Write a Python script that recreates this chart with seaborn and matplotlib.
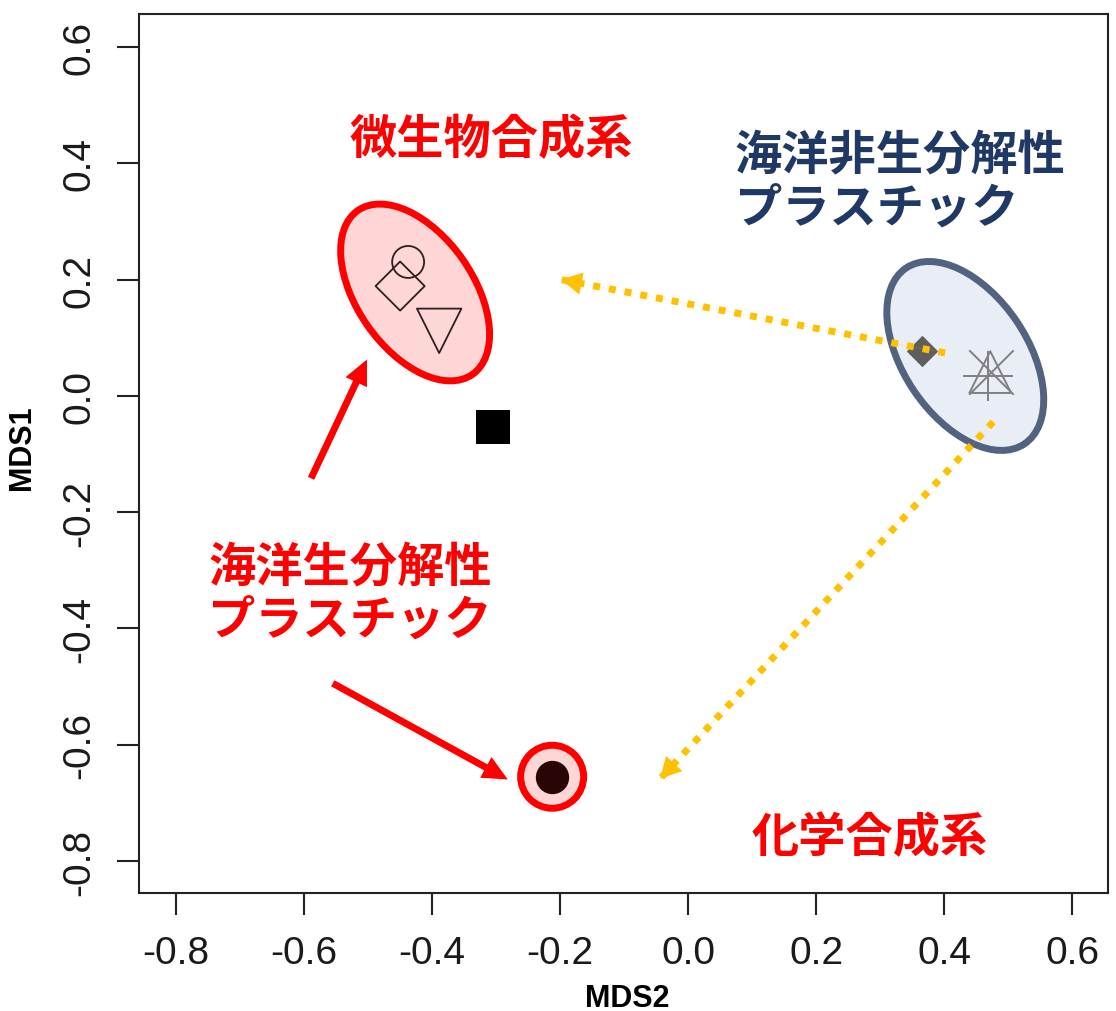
import numpy as np
import pandas as pd
import matplotlib
matplotlib.use("Agg")
import matplotlib.pyplot as plt
import seaborn as sns
from matplotlib import font_manager
from matplotlib.patches import Ellipse, FancyArrowPatch
from matplotlib.transforms import ScaledTranslation

# ---- NMDS sample scores ----
sample_id = ["m1", "m2", "m3", "ref", "c1", "n1", "n2", "n3", "n4"]
sample_group = ["microbial", "microbial", "microbial", "reference", "chemical",
                "nonbio", "nonbio", "nonbio", "nonbio"]
mds2 = [-0.4375, -0.450, -0.389, -0.305, -0.2125, 0.366, 0.472, 0.469, 0.473]
mds1 = [0.2305, 0.189, 0.112, -0.053, -0.655, 0.077, 0.041, 0.034, 0.041]

x_ticks = [-0.8, -0.6, -0.4, -0.2, 0.0, 0.2, 0.4, 0.6]
x_tick_labels = ["-0.8", "-0.6", "-0.4", "-0.2", "0.0", "0.2", "0.4", "0.6"]
y_ticks = [-0.8, -0.6, -0.4, -0.2, 0.0, 0.2, 0.4, 0.6]
y_tick_labels = ["-0.8", "-0.6", "-0.4", "-0.2", "0.0", "0.2", "0.4", "0.6"]

df = pd.DataFrame({"id": sample_id, "group": sample_group, "MDS2": mds2, "MDS1": mds1})

sns.set_theme(style="white")
names = {f.name for f in font_manager.fontManager.ttflist}
num_font = "Liberation Sans Narrow" if "Liberation Sans Narrow" in names else "Liberation Sans"
cjk = ["Noto Sans CJK JP", "DejaVu Sans"]
plt.rcParams["font.family"] = [num_font, "DejaVu Sans"]

fig = plt.figure(figsize=(11.16, 10.12), dpi=100)
ax = fig.add_axes([139 / 1116, 118 / 1012, 969 / 1116, 879 / 1012])
ax.set_xlim(-0.858, 0.656)
ax.set_ylim(-0.855, 0.657)

# ---- group ellipses ----
def group_ellipse(cx, cy, a_px, b_px, angle, face, edge, lw=5):
    tr = fig.dpi_scale_trans + ScaledTranslation(cx, cy, ax.transData)
    e = Ellipse((0, 0), 2 * a_px / fig.dpi, 2 * b_px / fig.dpi, angle=angle,
                transform=tr, facecolor=face, edgecolor=edge, lw=lw, zorder=1)
    ax.add_patch(e)

group_ellipse(-0.4266, 0.178, 100, 58, -55, "#FFD6D6", "#FF0000")
group_ellipse(0.433, 0.0688, 106, 62, -56, "#E9EDF6", "#52627F")
group_ellipse(df.MDS2[4], df.MDS1[4], 31.5, 31.5, 0, "#FFD6D6", "#FF0000")

# ---- sample points ----
styles = {
    "m1": dict(marker="o", s=23 ** 2, facecolor="none", edgecolor="#2B1F1F", linewidth=1.3),
    "m2": dict(marker="D", s=25 ** 2, facecolor="none", edgecolor="#2B1F1F", linewidth=1.3),
    "m3": dict(marker="v", s=32 ** 2, facecolor="none", edgecolor="#2B1F1F", linewidth=1.3),
    "ref": dict(marker="s", s=24 ** 2, color="black", edgecolor="black", linewidth=0),
    "c1": dict(marker="o", s=24 ** 2, color="#2A0505", edgecolor="#2A0505", linewidth=0),
    "n1": dict(marker="D", s=16 ** 2, color="#5E5E5E", edgecolor="#5E5E5E", linewidth=0),
    "n2": dict(marker="^", s=30 ** 2, facecolor="none", edgecolor="#808080", linewidth=1.4),
    "n3": dict(marker="+", s=36 ** 2, color="#808080", linewidth=1.4),
    "n4": dict(marker="x", s=32 ** 2, color="#808080", linewidth=1.4),
}
for _, row in df.iterrows():
    sns.scatterplot(x=[row.MDS2], y=[row.MDS1], ax=ax, zorder=3, legend=False,
                    **styles[row.id])

# ---- arrows ----
red_arrows = [((-0.591, -0.146), (-0.500, 0.067)),
              ((-0.559, -0.492), (-0.278, -0.662))]
for tail, tip in red_arrows:
    ax.add_patch(FancyArrowPatch(tail, tip, arrowstyle="simple,head_length=1.8,head_width=1.7,tail_width=0.5",
                                 mutation_scale=10, lw=0, color="#FF0000", zorder=4))

orange_arrows = [((0.4016, 0.074), (-0.203, 0.201)),
                 ((0.4766, -0.0447), (-0.0469, -0.662))]
for tail, tip in orange_arrows:
    ax.plot([tail[0], tip[0]], [tail[1], tip[1]], color="#FFC000", lw=5,
            linestyle=(0, (1, 1.3)), dash_capstyle="butt", zorder=5)
    ax.add_patch(FancyArrowPatch(tail, tip, arrowstyle="simple,head_length=1.5,head_width=1.6,tail_width=0.01",
                                 mutation_scale=10, lw=0, color="#FFC000", zorder=5))

# ---- annotations ----
ax.text(-0.308, 0.442, "微生物合成系", color="#FF0000", fontsize=34, fontweight="bold",
        family=cjk, ha="center", va="center", zorder=6)
ax.text(0.073, 0.370, "海洋非生分解性\nプラスチック", color="#1F3864", fontsize=34, fontweight="bold",
        family=cjk, ha="left", va="center", linespacing=1.15, zorder=6)
ax.text(-0.750, -0.339, "海洋生分解性\nプラスチック", color="#FF0000", fontsize=34, fontweight="bold",
        family=cjk, ha="left", va="center", linespacing=1.15, zorder=6)
ax.text(0.283, -0.759, "化学合成系", color="#FF0000", fontsize=34, fontweight="bold",
        family=cjk, ha="center", va="center", zorder=6)

# ---- axes styling ----
ax.set_xticks(x_ticks)
ax.set_xticklabels(x_tick_labels)
ax.set_yticks(y_ticks)
ax.set_yticklabels(y_tick_labels, rotation=90, va="center")
ax.tick_params(axis="both", direction="out", length=16, width=1.5, color="#222222",
               labelsize=28, labelcolor="#1a1a1a", bottom=True, left=True)
ax.tick_params(axis="x", pad=14)
ax.tick_params(axis="y", pad=14)
for sp in ax.spines.values():
    sp.set_visible(True)
    sp.set_linewidth(1.5)
    sp.set_color("#222222")
ax.set_xlabel("")
ax.set_ylabel("")
ax.grid(False)

fig.text(22 / 1116, (1012 - 448) / 1012, "MDS1", rotation=90, fontsize=22, fontweight="bold",
         ha="center", va="center", color="black")
fig.text(627 / 1116, 5 / 1012, "MDS2", fontsize=22, fontweight="bold",
         ha="center", va="baseline", color="black")

fig.savefig("out.png", dpi=100)
